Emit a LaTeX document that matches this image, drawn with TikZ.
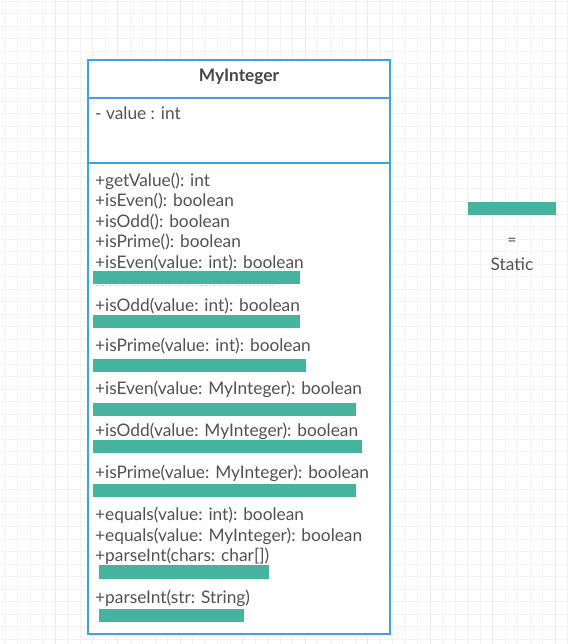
\documentclass[tikz,border=0pt]{standalone}
\usepackage{fontspec}
\setmainfont{Lato}
\definecolor{umlblue}{RGB}{59,164,224}
\definecolor{stgreen}{RGB}{69,179,157}
\definecolor{txt}{RGB}{82,82,82}
\definecolor{gridminor}{RGB}{243,243,243}
\definecolor{gridmajor}{RGB}{235,235,235}
\begin{document}
\begin{tikzpicture}[x=1pt,y=-1pt,
  member/.style={anchor=base west,inner sep=0pt,text=txt,font=\fontsize{17.3}{20}\selectfont},
  title/.style={anchor=base,inner sep=0pt,text=txt!85!black,font=\bfseries\fontsize{17.3}{20}\selectfont},
  staticbar/.style={fill=stgreen,draw=none},
  frame/.style={draw=umlblue,line width=2pt}]
\useasboundingbox (0,0) rectangle (568,644);
\fill[white] (0,0) rectangle (568,644);
% grid
\foreach \i in {0,...,45} {\draw[gridminor,line width=1pt] ({5+12.5*\i},0) -- ({5+12.5*\i},644);}
\foreach \i in {0,...,51} {\draw[gridminor,line width=1pt] (0,{1.5+12.5*\i}) -- (568,{1.5+12.5*\i});}
\foreach \i in {0,...,8} {\draw[gridmajor,line width=1pt] ({55+62.5*\i},0) -- ({55+62.5*\i},644);}
% class box
\fill[white] (88,60) rectangle (390,634);
\draw[frame] (88,60) rectangle (390,634);
\draw[frame] (88,98) -- (390,98);
\draw[frame] (88,163) -- (390,163);
\node[title] (t) at (239,81.5) {MyInteger};
\node[member] (a1) at (95,120) {- value : int};
% static bars
\fill[staticbar] (93,271) rectangle (300,284);
\draw[gray!40,dotted,line width=0.6pt] (93,285.5) -- (275,285.5);
\fill[staticbar] (93,314.5) rectangle (300,327.5);
\fill[staticbar] (93,358.5) rectangle (306,371.5);
\fill[staticbar] (93,402.5) rectangle (356,415.5);
\fill[staticbar] (93,439.5) rectangle (362,453);
\fill[staticbar] (93,484) rectangle (356,497);
\fill[staticbar] (99,565) rectangle (269,578.5);
\fill[staticbar] (99,608.5) rectangle (244,621.5);
% methods
\node[member] (m1) at (95,186) {+getValue(): int};
\node[member] (m2) at (95,206.7) {+isEven(): boolean};
\node[member] (m3) at (95,227) {+isOdd(): boolean};
\node[member] (m4) at (95,247.3) {+isPrime(): boolean};
\node[member] (m5) at (95,268.3) {+isEven(value: int): boolean};
\node[member] (m6) at (95,311) {+isOdd(value: int): boolean};
\node[member] (m7) at (95,351.7) {+isPrime(value: int): boolean};
\node[member] (m8) at (95,394.3) {+isEven(value: MyInteger): boolean};
\node[member] (m9) at (95,436) {+isOdd(value: MyInteger): boolean};
\node[member] (m10) at (95,478.3) {+isPrime(value: MyInteger): boolean};
\node[member] (m11) at (95,520.7) {+equals(value: int): boolean};
\node[member] (m12) at (95,541) {+equals(value: MyInteger): boolean};
\node[member] (m13) at (95,561.7) {+parseInt(chars: char[])};
\node[member] (m14) at (95,603.3) {+parseInt(str: String)};
% legend
\fill[staticbar] (468,202.5) rectangle (556,215);
\node[anchor=base,inner sep=0pt,text=txt,font=\fontsize{16}{19}\selectfont] (eq) at (512,245.5) {=};
\node[anchor=base,inner sep=0pt,text=txt,font=\fontsize{17.3}{20}\selectfont] (st) at (512,270.7) {Static};
\end{tikzpicture}
\end{document}
